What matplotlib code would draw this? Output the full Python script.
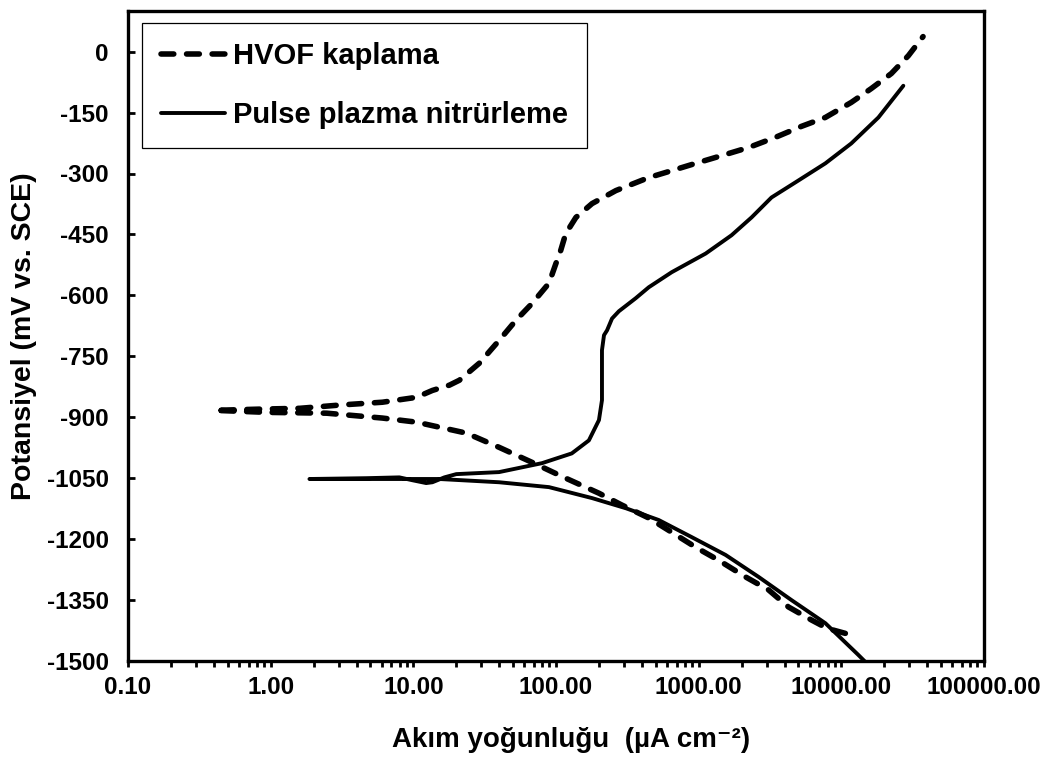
import matplotlib
matplotlib.use('Agg')
import matplotlib.pyplot as plt
from matplotlib.ticker import FixedLocator, FuncFormatter, NullFormatter

plt.rcParams['font.family'] = ['Liberation Sans', 'DejaVu Sans']
plt.rcParams['font.weight'] = 'bold'
plt.rcParams['axes.unicode_minus'] = False

# ---- data (current density in uA/cm2, potential in mV vs SCE) ----
hvof_cath_i = [0.406, 0.94, 2.47, 6.07, 10.5, 23.5, 39.9, 67.9, 117, 200, 289,
               447, 647, 953, 1380, 2130, 3090, 4260, 6170, 8000, 10670]
hvof_cath_E = [-883, -888, -890, -902, -912, -939, -974, -1011, -1050, -1087, -1116,
               -1148, -1183, -1220, -1252, -1293, -1325, -1367, -1399, -1420, -1432]

hvof_an_i = [0.406, 0.838, 1.60, 3.04, 6.07, 10.5, 13.6, 17.9, 21.0, 29.0, 39.9, 52.5,
             67.9, 89.3, 100, 108, 117, 138, 179, 263, 447, 647, 953, 1449, 2240,
             3450, 5250, 7730, 11740, 16200, 22400, 29500, 37400]
hvof_an_E = [-883, -880, -878, -870, -863, -851, -834, -821, -809, -767, -711, -661,
             -620, -570, -521, -489, -448, -408, -374, -342, -310, -293, -275, -256, -236,
             -211, -184, -162, -125, -91, -54, -10, 37]

pulse_cath_i = [1.87, 15.2, 39.9, 89.3, 179, 309, 525, 893, 1545, 2630, 4470, 7730,
                13150, 15500]
pulse_cath_E = [-1052, -1052, -1060, -1072, -1099, -1124, -1153, -1195, -1239, -1293,
                -1350, -1407, -1485, -1510]

pulse_an_i = [1.87, 4.69, 7.98, 9.84, 12.3, 13.6, 16.5, 20.0, 39.9, 79.8, 129, 170,
              200, 210, 210, 210, 217, 228, 247, 276, 362, 447, 647, 1120, 1700, 2350,
              3240, 4760, 7730, 11740, 18200, 27200]
pulse_an_E = [-1052, -1050, -1048, -1055, -1062, -1060, -1048, -1040, -1035, -1013, -989,
              -957, -907, -858, -802, -735, -698, -686, -657, -639, -607, -580, -543,
              -497, -452, -408, -359, -322, -275, -226, -162, -84]

series_labels = ['HVOF kaplama', 'Pulse plazma nitrürleme']
x_ticks = [0.1, 1, 10, 100, 1000, 10000, 100000]
y_ticks = list(range(-1500, 1, 150))
x_label = 'Akım yoğunluğu  (µA cm⁻²)'
y_label = 'Potansiyel (mV vs. SCE)'

# full scans: cathodic branch (reversed) then anodic branch
hvof_i = hvof_cath_i[::-1] + hvof_an_i[1:]
hvof_E = hvof_cath_E[::-1] + hvof_an_E[1:]
pulse_i = pulse_cath_i[::-1] + pulse_an_i[1:]
pulse_E = pulse_cath_E[::-1] + pulse_an_E[1:]

fig = plt.figure(figsize=(10.5, 7.57), dpi=100)
ax = fig.add_axes([128/1050, 1-661/757, 856/1050, 650/757])

ax.plot(hvof_i, hvof_E, color='black', lw=4.0, dashes=(2.3, 2.3),
        dash_capstyle='round', solid_joinstyle='round', label=series_labels[0])
ax.plot(pulse_i, pulse_E, color='black', lw=2.8, solid_capstyle='round',
        solid_joinstyle='round', label=series_labels[1])

ax.set_xscale('log')
ax.set_xlim(x_ticks[0], x_ticks[-1])
ax.set_ylim(-1500, 100)
ax.set_yticks(y_ticks)
minor_x = [m * d for d in x_ticks[:-1] for m in range(2, 10)]
ax.xaxis.set_major_locator(FixedLocator(x_ticks))
ax.xaxis.set_minor_locator(FixedLocator(minor_x))
ax.xaxis.set_major_formatter(FuncFormatter(lambda v, p: f'{v:.2f}'))
ax.xaxis.set_minor_formatter(NullFormatter())

ax.tick_params(axis='x', which='both', direction='out', length=4, width=2,
               labelsize=17.5, pad=7)
ax.tick_params(axis='y', which='both', direction='in', length=5, width=2,
               labelsize=17.5, pad=14)
for s in ax.spines.values():
    s.set_linewidth(2.4)

ax.set_xlabel(x_label, fontsize=20, fontweight='bold', va='center')
ax.set_ylabel(y_label, fontsize=20.5, fontweight='bold', va='center')
ax.xaxis.set_label_coords(0.5175, -0.1215)
ax.yaxis.set_label_coords(-0.1215, 0.5)

leg = ax.legend(loc='upper left', bbox_to_anchor=(0.0165, 0.9815), fontsize=21,
                frameon=True, fancybox=False, edgecolor='black', framealpha=1,
                borderaxespad=0, handlelength=2.2, handletextpad=0.27,
                labelspacing=1.07, borderpad=0.65)
leg.get_frame().set_linewidth(0.9)

fig.savefig('out.png', dpi=100)
